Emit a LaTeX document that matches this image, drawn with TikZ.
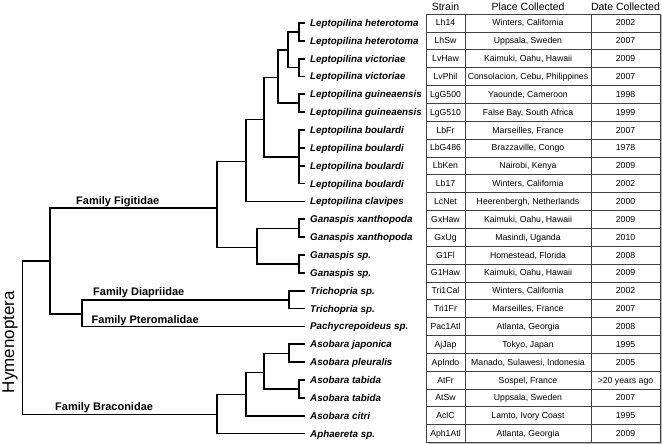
\documentclass[tikz,border=0pt]{standalone}
\usepackage{fontspec}
\setmainfont{Liberation Sans}
\begin{document}
\begin{tikzpicture}[x=1pt,y=-1pt,
  tree/.style={line width=1.8pt, line join=miter, line cap=butt},
  leaf/.style={anchor=base west, inner sep=0pt, font=\fontsize{9.8}{10}\selectfont\bfseries\itshape},
  fam/.style={anchor=base west, inner sep=0pt, font=\fontsize{11}{12}\selectfont\bfseries},
  cell/.style={anchor=base, inner sep=0pt, font=\fontsize{8.7}{10}\selectfont},
  head/.style={anchor=base, inner sep=0pt, font=\fontsize{10.5}{12}\selectfont},
  gridline/.style={draw=black!75, line width=0.6pt}]
\useasboundingbox (0,0) rectangle (662,444);
% table grid
\draw[black!25, line width=1.2pt] (661,15.5) -- (661,443.3) -- (427.5,443.3);
\draw[gridline] (426,14) rectangle (660,442.5);
\foreach \k in {1,...,23} \draw[gridline] (426,14+17.854*\k) -- (660,14+17.854*\k);
\draw[gridline] (465,14) -- (465,442.5);
\draw[gridline] (591,14) -- (591,442.5);
% header
\node[head] (hs) at (445.5,10.5) {Strain};
\node[head] (hp) at (528,10.5) {Place Collected};
\node[head] (hd) at (625.5,10.5) {Date Collected};
% leaves and table rows
\foreach \sp/\st/\pl/\dt [count=\i from 0] in {
 Leptopilina heterotoma/Lh14/{Winters, California}/2002,
 Leptopilina heterotoma/LhSw/{Uppsala, Sweden}/2007,
 Leptopilina victoriae/LvHaw/{Kaimuki, Oahu, Hawaii}/2009,
 Leptopilina victoriae/LvPhil/{Consolacion, Cebu, Philippines}/2007,
 Leptopilina guineaensis/LgG500/{Yaounde, Cameroon}/1998,
 Leptopilina guineaensis/LgG510/{False Bay, South Africa}/1999,
 Leptopilina boulardi/LbFr/{Marseilles, France}/2007,
 Leptopilina boulardi/LbG486/{Brazzaville, Congo}/1978,
 Leptopilina boulardi/LbKen/{Nairobi, Kenya}/2009,
 Leptopilina boulardi/Lb17/{Winters, California}/2002,
 Leptopilina clavipes/LcNet/{Heerenbergh, Netherlands}/2000,
 Ganaspis xanthopoda/GxHaw/{Kaimuki, Oahu, Hawaii}/2009,
 Ganaspis xanthopoda/GxUg/{Masindi, Uganda}/2010,
 Ganaspis sp./G1Fl/{Homestead, Florida}/2008,
 Ganaspis sp./G1Haw/{Kaimuki, Oahu, Hawaii}/2009,
 Trichopria sp./Tri1Cal/{Winters, California}/2002,
 Trichopria sp./Tri1Fr/{Marseilles, France}/2007,
 Pachycrepoideus sp./Pac1Atl/{Atlanta, Georgia}/2008,
 Asobara japonica/AjJap/{Tokyo, Japan}/1995,
 Asobara pleuralis/ApIndo/{Manado, Sulawesi, Indonesia}/2005,
 Asobara tabida/AtFr/{Sospel, France}/{>20 years ago},
 Asobara tabida/AtSw/{Uppsala, Sweden}/2007,
 Asobara citri/AclC/{Lamto, Ivory Coast}/1995,
 Aphaereta sp./Aph1Atl/{Atlanta, Georgia}/2009}{
  \pgfmathsetmacro\yy{22.9+17.854*\i}
  \coordinate (t\i) at (305,\yy);
  \node[leaf] (l\i) at (310,\yy+3.5) {\sp};
  \node[cell] (s\i) at (445.5,\yy+3.1) {\st};
  \node[cell] (p\i) at (528,\yy+3.1) {\pl};
  \node[cell] (d\i) at (625.5,\yy+3.1) {\dt};
}
% internal nodes
\coordinate (pLh) at (299,31.8);
\coordinate (pLv) at (299,67.6);
\coordinate (nA) at (288,49.7);
\coordinate (pLg) at (299,103.3);
\coordinate (nB) at (278,77.5);
\coordinate (pLb) at (299,156.9);
\coordinate (nC) at (264,119.5);
\coordinate (nD) at (246,161.5);
\coordinate (pGx) at (299,228.4);
\coordinate (pGs) at (299,264.1);
\coordinate (nE) at (257,247.5);
\coordinate (nF) at (217,208);
\coordinate (pTr) at (289,299.9);
\coordinate (nH) at (82,313.8);
\coordinate (nG) at (50,261);
\coordinate (pAj) at (289,353.5);
\coordinate (pAt) at (299,389.2);
\coordinate (nI) at (264,372.5);
\coordinate (nJ) at (246,394.5);
\coordinate (nK) at (217,414.5);
\coordinate (root) at (22.5,337.5);
% tree
\draw[tree] (pLh) |- (t0) (pLh) |- (t1);
\draw[tree] (pLv) |- (t2) (pLv) |- (t3);
\draw[tree] (nA) |- (pLh) (nA) |- (pLv);
\draw[tree] (pLg) |- (t4) (pLg) |- (t5);
\draw[tree] (nB) |- (nA) (nB) |- (pLg);
\draw[tree] (pLb) |- (t6) (pLb) |- (t7) (pLb) |- (t8) (pLb) |- (t9);
\draw[tree] (nC) |- (nB) (nC) |- (pLb);
\draw[tree] (nD) |- (nC) (nD) |- (t10);
\draw[tree] (pGx) |- (t11) (pGx) |- (t12);
\draw[tree] (pGs) |- (t13) (pGs) |- (t14);
\draw[tree] (nE) |- (pGx) (nE) |- (pGs);
\draw[tree] (nF) |- (nD) (nF) |- (nE);
\draw[tree] (pTr) |- (t15) (pTr) |- (t16);
\draw[tree] (nH) |- (pTr) (nH) |- (t17);
\draw[tree] (nG) |- (nF) (nG) |- (nH);
\draw[tree] (pAj) |- (t18) (pAj) |- (t19);
\draw[tree] (pAt) |- (t20) (pAt) |- (t21);
\draw[tree] (nI) |- (pAj) (nI) |- (pAt);
\draw[tree] (nJ) |- (nI) (nJ) |- (t22);
\draw[tree] (nK) |- (nJ) (nK) |- (t23);
\draw[tree] (root) |- (nG) (root) |- (nK);
% family labels
\node[fam] (fF) at (76,204) {Family Figitidae};
\node[fam] (fD) at (93,295.9) {Family Diapriidae};
\node[fam] (fP) at (91.5,323.3) {Family Pteromalidae};
\node[fam] (fB) at (55,410.5) {Family Braconidae};
\node[rotate=90, inner sep=0pt, font=\fontsize{17}{18}\selectfont] (hy) at (10,342) {Hymenoptera};
\end{tikzpicture}
\end{document}
